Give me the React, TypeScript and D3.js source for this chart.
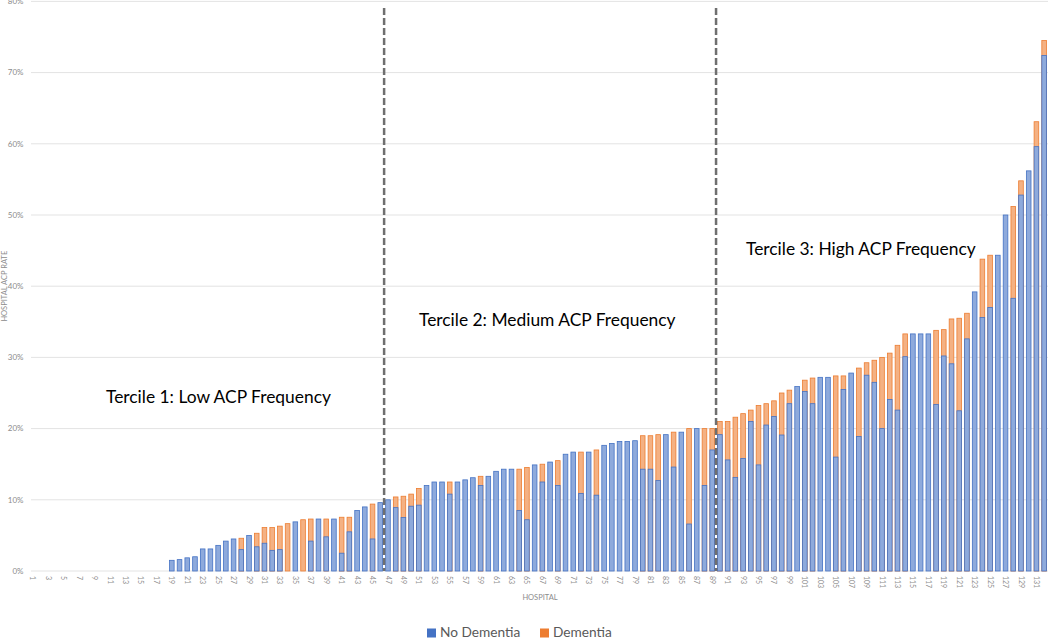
import React from "react";
import * as d3 from "d3";

// Hospital ACP rates (%), hospitals sorted 1..132
const hospitals: number[] = d3.range(1, 133);

// No Dementia ACP rate (%) per hospital
const noDementia: number[] = [
  0, 0, 0, 0, 0, 0, 0, 0, 0, 0, 0, 0, 0, 0, 0, 0, 0, 0,
  1.5, 1.6, 1.85, 2.0, 3.1, 3.1, 3.6, 4.2, 4.5, 3.0, 5.0, 3.4,
  3.9, 2.9, 3.0, 0, 6.9, 0, 4.2, 7.3, 4.8, 7.3,
  2.5, 5.5, 8.5, 9.0, 4.5, 9.6, 10.0, 8.9, 7.5, 9.1,
  9.25, 12.0, 12.5, 12.5, 10.8, 12.5, 12.8, 13.1, 12.0, 13.3,
  14.0, 14.3, 14.3, 8.5, 7.2, 14.9, 12.5, 15.3, 12.0, 16.4,
  16.7, 10.9, 16.7, 10.65, 17.65, 17.9, 18.2, 18.2, 18.3, 14.3,
  14.3, 12.7, 19.15, 14.6, 19.5, 6.6, 20.0, 12.0, 17.0, 19.15,
  15.6, 13.15, 15.8, 21.0, 14.9, 20.5, 21.7, 19.1, 23.5, 25.9,
  25.2, 23.5, 27.2, 27.2, 16.0, 25.5, 27.8, 18.9, 27.5, 26.5,
  20.0, 24.1, 22.6, 30.1, 33.3, 33.3, 33.3, 23.4, 30.2, 29.1,
  22.5, 32.6, 39.2, 35.6, 37.0, 44.35, 50.0, 38.3, 52.8, 56.2,
  59.6, 72.4,
];

// Dementia ACP rate (%) per hospital (0 where hidden behind the No Dementia bar)
const dementia: number[] = [
  0, 0, 0, 0, 0, 0, 0, 0, 0, 0, 0, 0, 0, 0, 0, 0, 0, 0,
  0, 0, 0, 0, 0, 0, 0, 0, 0, 4.6, 0, 5.3,
  6.1, 6.1, 6.3, 6.65, 0, 7.2, 7.3, 0, 7.3, 0,
  7.55, 7.55, 0, 0, 9.4, 0, 0, 10.4, 10.5, 10.8,
  11.6, 0, 0, 0, 12.5, 0, 0, 0, 13.3, 0,
  0, 0, 0, 14.3, 14.55, 0, 15.0, 0, 15.5, 0,
  0, 16.7, 0, 17.0, 0, 0, 0, 0, 0, 19.0,
  19.0, 19.15, 0, 19.5, 0, 20.0, 0, 20.0, 20.0, 21.0,
  21.0, 21.6, 22.1, 22.6, 23.25, 23.5, 23.9, 25.0, 25.4, 0,
  26.8, 27.1, 0, 0, 27.4, 27.4, 0, 28.5, 29.25, 29.6,
  30.0, 30.6, 31.7, 33.3, 0, 0, 0, 33.8, 33.9, 35.4,
  35.5, 36.2, 0, 43.8, 44.35, 0, 0, 51.2, 54.8, 0,
  63.1, 74.5,
];

const yTicks: number[] = [0, 10, 20, 30, 40, 50, 60, 70, 80];
const xTickLabels: number[] = hospitals.filter((h) => h % 2 === 1);
const tercileBreaks: number[] = [46, 89];
const tercileLabels: string[] = [
  "Tercile 1: Low ACP Frequency",
  "Tercile 2: Medium ACP Frequency",
  "Tercile 3: High ACP Frequency",
];
const seriesNames: string[] = ["No Dementia", "Dementia"];

const W = 1050;
const H = 638;
const BLUE = "#4472c4";
const BLUE_FILL = "#8eaadc";
const ORANGE = "#ed7d31";
const ORANGE_FILL = "#f4b183";
const AXIS_TEXT = "#8c8c8c";
const FONT = "Lato, 'Open Sans', sans-serif";

export default function App() {
  const x = d3
    .scaleBand<number>()
    .domain(hospitals)
    .range([29, 1048])
    .paddingInner(0.4)
    .paddingOuter(0.2);
  const y = d3.scaleLinear().domain([0, 80]).range([571, 1.4]);
  const bw = x.bandwidth();
  const cx = (h: number) => (x(h) as number) + bw / 2;

  const tercilePos = [
    { x: 106, y: 402.7 },
    { x: 419, y: 326 },
    { x: 746, y: 255 },
  ];

  return (
    <svg
      width={W}
      height={H}
      style={{ position: "absolute", left: 0, top: 0, background: "#fff" }}
      fontFamily={FONT}
    >
      {/* grid */}
      {yTicks.map((t) => (
        <g key={t}>
          <line
            x1={31}
            x2={1048}
            y1={y(t)}
            y2={y(t)}
            stroke="#e3e3e3"
            strokeWidth={1}
          />
          <text
            x={23.5}
            y={y(t)}
            dy="0.35em"
            textAnchor="end"
            fontSize={8}
            fill={AXIS_TEXT}
          >
            {t}%
          </text>
        </g>
      ))}

      {/* bars: dementia behind, no dementia in front */}
      {hospitals.map((h, i) =>
        dementia[i] > 0 ? (
          <rect
            key={"d" + h}
            x={x(h)}
            y={y(dementia[i])}
            width={bw}
            height={y(0) - y(dementia[i])}
            fill={ORANGE_FILL}
            stroke={ORANGE}
            strokeWidth={0.8}
          />
        ) : null
      )}
      {hospitals.map((h, i) =>
        noDementia[i] > 0 ? (
          <rect
            key={"n" + h}
            x={x(h)}
            y={y(noDementia[i])}
            width={bw}
            height={y(0) - y(noDementia[i])}
            fill={BLUE_FILL}
            stroke={BLUE}
            strokeWidth={0.8}
          />
        ) : null
      )}

      {/* x tick labels */}
      {xTickLabels.map((h) => (
        <text
          key={"xt" + h}
          transform={`translate(${cx(h)},576) rotate(90)`}
          textAnchor="start"
          dy="0.35em"
          fontSize={7}
          fill={AXIS_TEXT}
        >
          {h}
        </text>
      ))}

      {/* tercile separators */}
      {tercileBreaks.map((b) => {
        const xx = (cx(b) + cx(b + 1)) / 2;
        return (
          <line
            key={"tb" + b}
            x1={xx}
            x2={xx}
            y1={8}
            y2={571}
            stroke="#6f6f6f"
            strokeWidth={2.5}
            strokeDasharray="7,3"
          />
        );
      })}

      {/* tercile labels */}
      {tercileLabels.map((t, i) => (
        <text
          key={t}
          x={tercilePos[i].x}
          y={tercilePos[i].y}
          fontSize={17.4}
          fill="#000"
        >
          {t}
        </text>
      ))}

      {/* axis titles */}
      <text
        x={540}
        y={597}
        dy="0.35em"
        textAnchor="middle"
        fontSize={7.5}
        fill={AXIS_TEXT}
      >
        HOSPITAL
      </text>
      <text
        transform={`translate(4,${(y(0) + y(80)) / 2}) rotate(-90)`}
        dy="0.35em"
        textAnchor="middle"
        fontSize={7.5}
        fill={AXIS_TEXT}
      >
        HOSPITAL ACP RATE
      </text>

      {/* legend */}
      <g>
        <rect x={427} y={628.5} width={9} height={9} fill={BLUE} />
        <text x={440} y={637} fontSize={13.7} fill="#595959">
          {seriesNames[0]}
        </text>
        <rect x={540} y={628.5} width={9} height={9} fill={ORANGE} />
        <text x={553} y={637} fontSize={13.7} fill="#595959">
          {seriesNames[1]}
        </text>
      </g>
    </svg>
  );
}
